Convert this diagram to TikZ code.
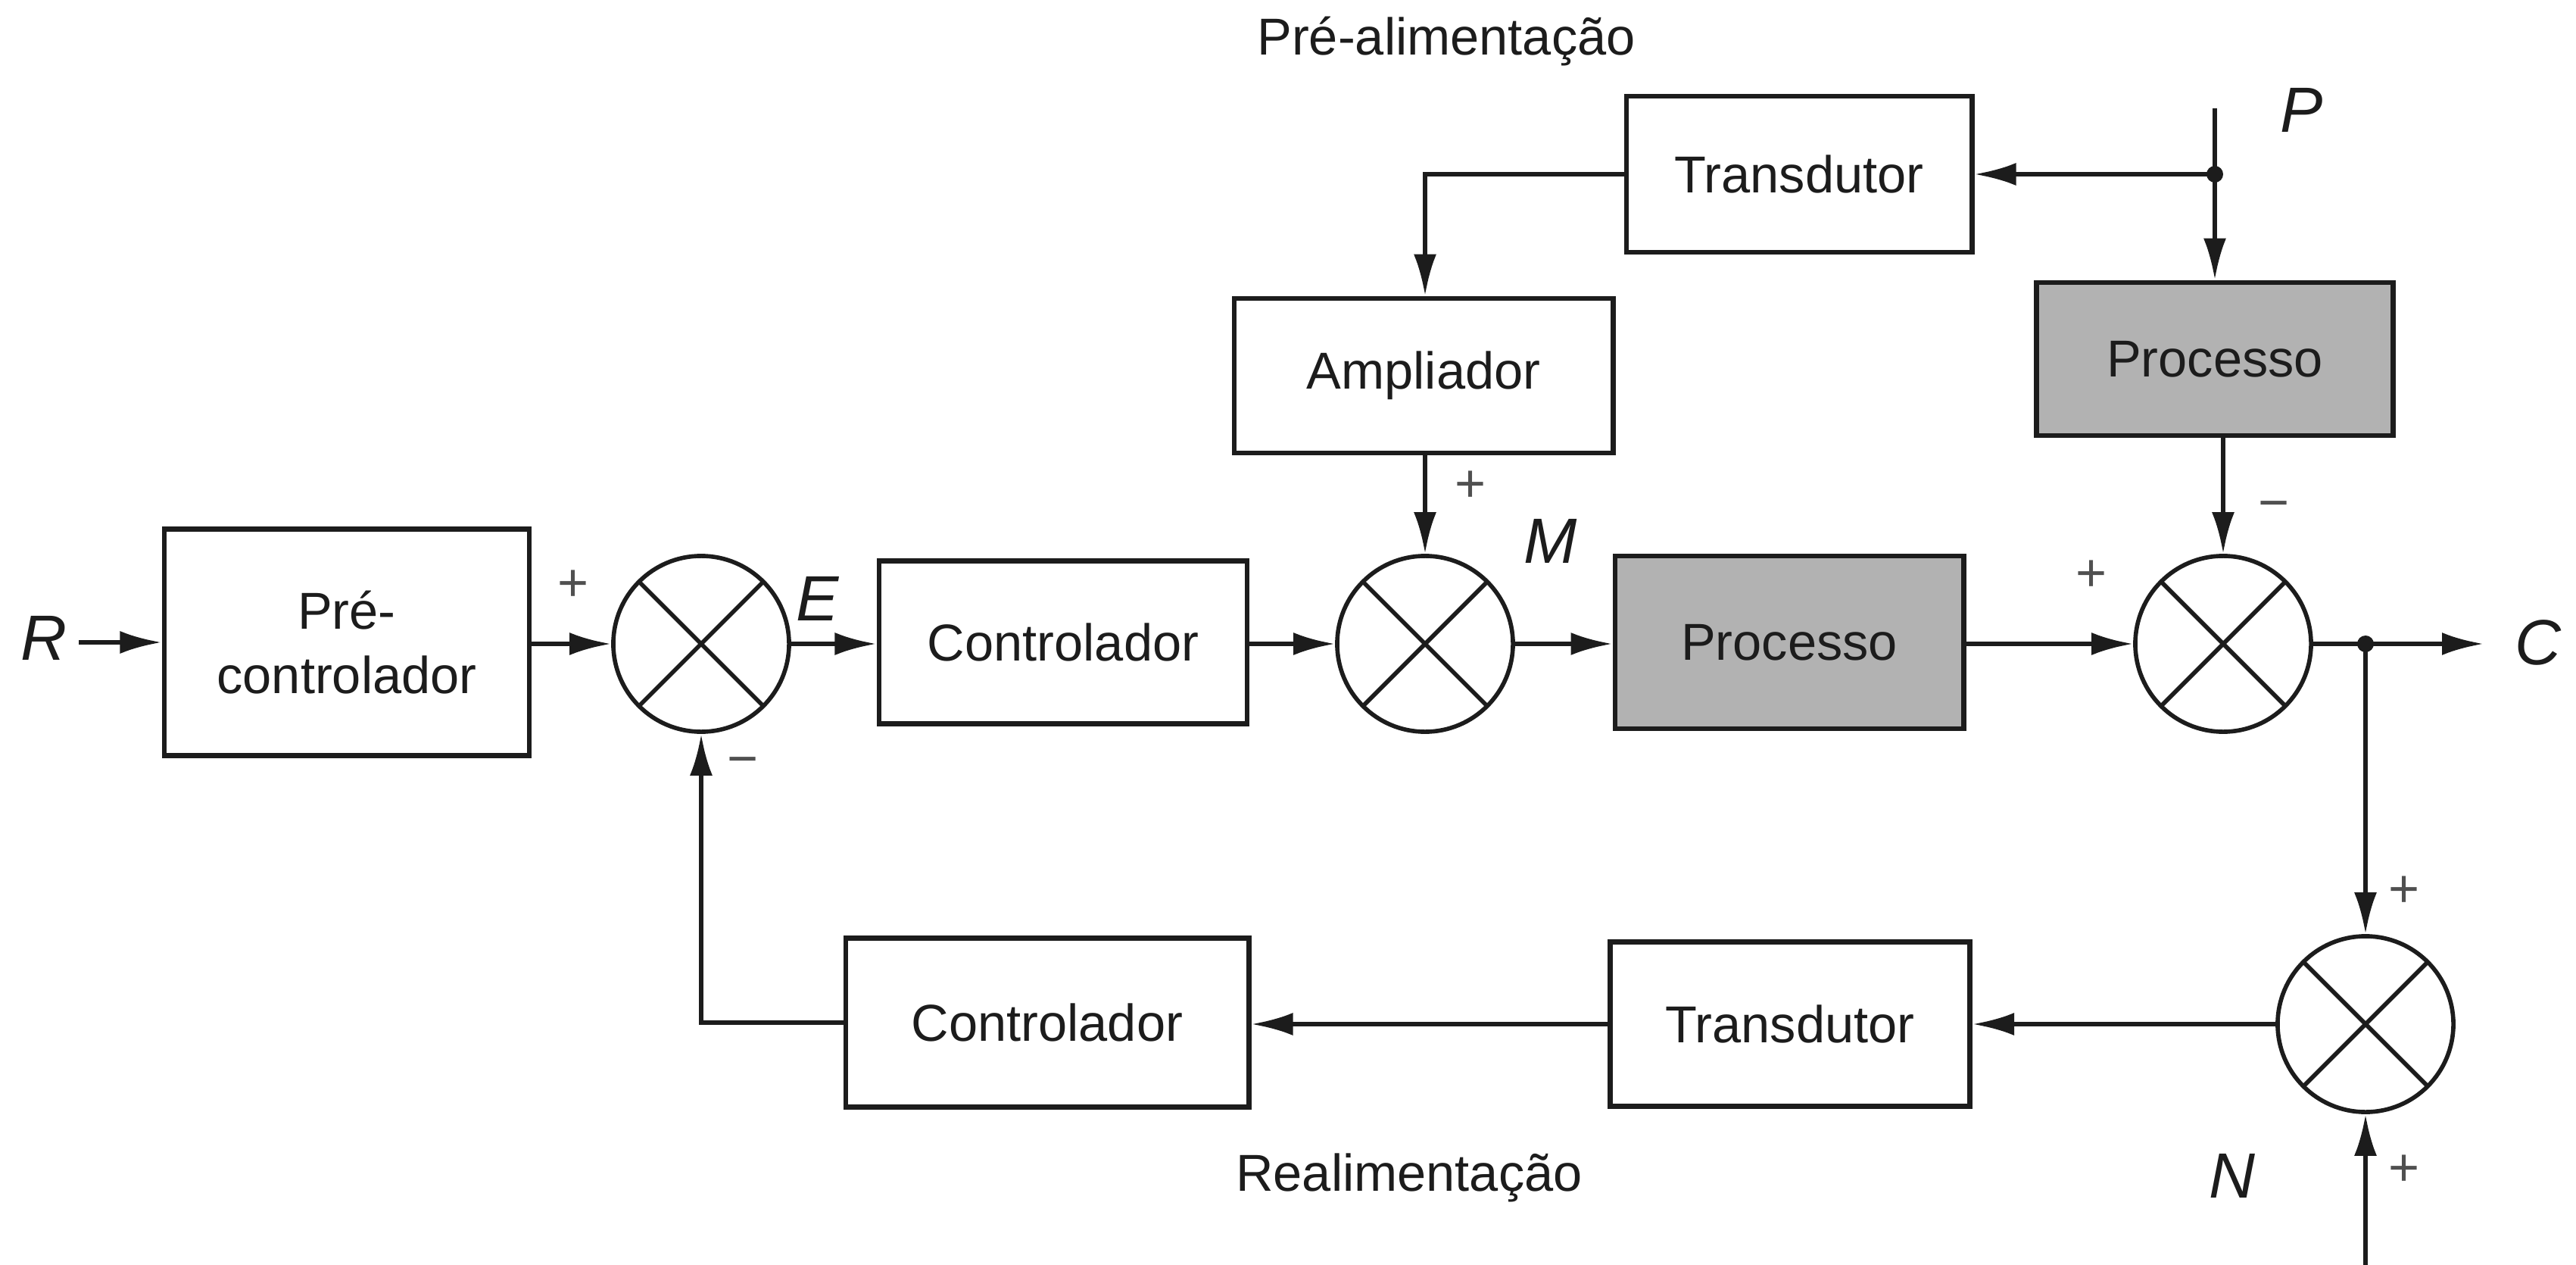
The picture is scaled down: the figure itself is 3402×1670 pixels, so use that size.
\documentclass[tikz,border=0pt]{standalone}
\usepackage{fontspec}
\setmainfont{Liberation Sans}
\usetikzlibrary{arrows.meta,calc}
\definecolor{ink}{RGB}{28,28,28}
\definecolor{procfill}{RGB}{178,178,178}
\definecolor{signink}{RGB}{80,80,80}
\tikzset{
  blockbox/.style={draw=ink, line width=1.9pt, fill=white, inner sep=0pt, align=center,
    font=\fontsize{19.5}{24}\selectfont, text=ink},
  procbox/.style={blockbox, fill=procfill},
  sumjunction/.style={draw=ink, line width=1.6pt, circle, minimum size=2.32cm, inner sep=0pt,
    path picture={\draw[ink, line width=1.6pt]
      (path picture bounding box.north west) -- (path picture bounding box.south east)
      (path picture bounding box.north east) -- (path picture bounding box.south west);}},
  sig/.style={draw=ink, line width=1.7pt, -{Latex[length=0.55cm, width=0.3cm]}},
  wire/.style={draw=ink, line width=1.7pt},
  varlabel/.style={font=\fontsize{24}{28}\selectfont\itshape, text=ink, inner sep=0pt},
  signlabel/.style={font=\fontsize{20}{24}\selectfont, text=signink, inner sep=0pt},
  caption/.style={font=\fontsize{19.5}{24}\selectfont, text=ink, inner sep=0pt},
  tap/.style={circle, fill=ink, minimum size=0.22cm, inner sep=0pt}
}
\begin{document}
\begin{tikzpicture}[x=0.01cm, y=-0.01cm]
\useasboundingbox (0,0) rectangle (3402,1670);

% forward path
\node[blockbox, minimum width=4.82cm, minimum height=2.99cm] (precon) at (458,848) {Pré-\\controlador};
\node[sumjunction] (s1) at (926,850) {};
\node[blockbox, minimum width=4.86cm, minimum height=2.15cm] (ctrl) at (1404,848) {Controlador};
\node[sumjunction] (s2) at (1882,850) {};
\node[procbox, minimum width=4.60cm, minimum height=2.28cm] (proc) at (2363,848) {Processo};
\node[sumjunction] (s3) at (2936,850) {};
\node[tap] (out) at (3124,850) {};
\coordinate (cend) at (3280,850);

% feed-forward path
\node[blockbox, minimum width=5.00cm, minimum height=2.04cm] (ampl) at (1880,496) {Ampliador};
\node[blockbox, minimum width=4.56cm, minimum height=2.06cm] (trans1) at (2376,230) {Transdutor};
\node[procbox, minimum width=4.71cm, minimum height=2.02cm] (proc2) at (2925,474) {Processo};
\node[tap] (ptap) at (2925,230) {};
\coordinate (pin) at (2925,143);

% feedback path
\node[sumjunction] (s4) at (3124,1352) {};
\node[blockbox, minimum width=4.75cm, minimum height=2.17cm] (trans2) at (2364,1352) {Transdutor};
\node[blockbox, minimum width=5.32cm, minimum height=2.23cm] (ctrl2) at (1383,1350) {Controlador};
\coordinate (nin) at (3124,1670);
\coordinate (rin) at (104,848);

% signal labels
\node[varlabel] (lR) at (58,842) {R};
\node[varlabel] (lE) at (1080,790) {E};
\node[varlabel] (lM) at (2048,714) {M};
\node[varlabel] (lP) at (3040,145) {P};
\node[varlabel] (lC) at (3352,848) {C};
\node[varlabel] (lN) at (2948,1552) {N};

% signs at the summing junctions
\node[signlabel] (p1) at (757,773) {+};
\node[signlabel] (m1) at (981,1013) {−};
\node[signlabel] (p2) at (1942,642) {+};
\node[signlabel] (p3) at (2762,760) {+};
\node[signlabel] (m3) at (3003,675) {−};
\node[signlabel] (p4) at (3175,1177) {+};
\node[signlabel] (p5) at (3175,1545) {+};

% path captions
\node[caption] (cap1) at (1910,55) {Pré-alimentação};
\node[caption] (cap2) at (1861,1555) {Realimentação};

% forward connectors
\draw[sig] (rin) -- (precon.west);
\draw[sig] (precon.east |- s1.west) -- (s1.west);
\draw[sig] (s1.east) -- (ctrl.west |- s1.east);
\draw[sig] (ctrl.east |- s2.west) -- (s2.west);
\draw[sig] (s2.east) -- (proc.west |- s2.east);
\draw[sig] (proc.east |- s3.west) -- (s3.west);
\draw[wire] (s3.east) -- (out.center);
\draw[sig] (out.center) -- (cend);

% feed-forward connectors
\draw[wire] (pin) -- (ptap.center);
\draw[sig] (ptap.center) -- (proc2.north);
\draw[sig] (ptap.center) -- (trans1.east);
\draw[sig] (trans1.west) -| (ampl.north -| s2.north);
\draw[sig] (ampl.south -| s2.north) -- (s2.north);
\draw[sig] (proc2.south -| s3.north) -- (s3.north);

% feedback connectors
\draw[sig] (out.center) -- (s4.north);
\draw[sig] (nin) -- (s4.south);
\draw[sig] (s4.west) -- (trans2.east |- s4.west);
\draw[sig] (trans2.west) -- (ctrl2.east |- trans2.west);
\draw[sig] (ctrl2.west) -| (s1.south);
\end{tikzpicture}
\end{document}
